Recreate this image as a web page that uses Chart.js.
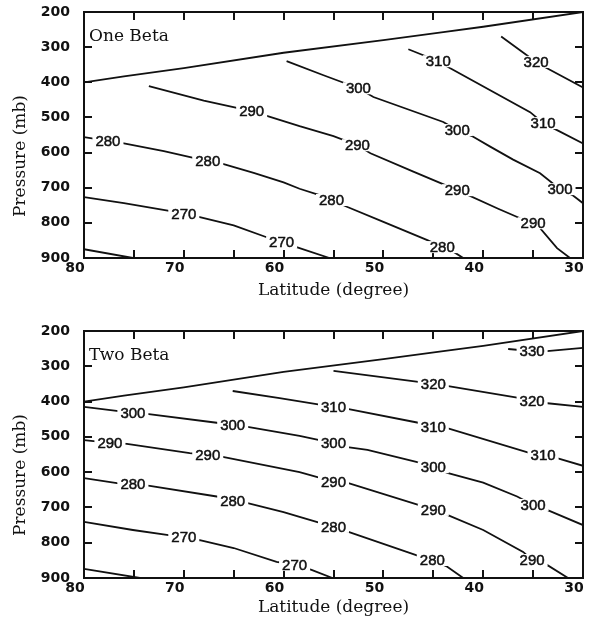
<!DOCTYPE html>
<html>
<head>
<meta charset="utf-8">
<script src="https://cdn.jsdelivr.net/npm/chart.js@4.4.0/dist/chart.umd.min.js"></script>
<style>
  body { margin: 0; background: #fff; }
  canvas { display: block; }
</style>
</head>
<body>
<canvas id="one-beta" width="591" height="310"></canvas>
<canvas id="two-beta" width="591" height="313"></canvas>
<script>
// ===== Axis values =====
const latTicks = [80, 75, 70, 65, 60, 55, 50, 45, 40, 35, 30];
const latLabels = [80, 70, 60, 50, 40, 30];
const pressureTicks = [200, 300, 400, 500, 600, 700, 800, 900];

// ===== Contours, points are [latitude, pressure mb] =====
// upper boundary, same for both runs
const tropopause = [[80, 400], [76, 383], [70, 360], [60, 316], [50, 280], [44, 257], [40, 242], [30, 200]];

// One Beta (theta, K)
const oneBeta260 = [[80, 875], [75.1, 900]];
const oneBeta270 = [[80, 727], [76, 744], [70, 773], [68.4, 784], [65, 807], [61.7, 841], [60.2, 855], [58.7, 869], [55.4, 900]];
const oneBeta280 = [[80, 556], [77.6, 567], [76, 574], [72, 596], [67.6, 624], [66, 633], [63, 658], [60, 685], [58.4, 703],
  [56.4, 721], [55.2, 735], [53.6, 755], [50, 797], [45.6, 849], [44.1, 869], [43, 882], [42, 900]];
const oneBeta290 = [[73.5, 411], [68, 452], [63.2, 482], [58.4, 525], [55, 553], [52.6, 579], [51.3, 602], [47, 654],
  [42.6, 707], [38.5, 760], [36.3, 787], [35, 801], [34.3, 815], [32.6, 872], [31.3, 900]];
const oneBeta300 = [[59.7, 340], [56, 380], [52.5, 417], [51, 442], [44, 513], [42.6, 536], [41, 555], [39.3, 583],
  [37, 620], [34.3, 659], [32.3, 704], [31, 722], [30, 744]];
const oneBeta310 = [[47.5, 306], [44.5, 340], [43.3, 360], [35.3, 485], [34, 516], [32.6, 536], [30, 574]];
const oneBeta320 = [[38.2, 270], [34.7, 342], [33.6, 360], [30, 415]];
const oneBetaLabels = [[270, 70, 773], [270, 60.2, 855], [280, 77.6, 567], [280, 67.6, 624], [280, 55.2, 735], [280, 44.1, 869],
  [290, 63.2, 482], [290, 52.6, 579], [290, 42.6, 707], [290, 35, 801], [300, 52.5, 417], [300, 42.6, 536], [300, 32.3, 704],
  [310, 44.5, 340], [310, 34, 516], [320, 34.7, 342]];

// Two Beta (theta, K)
const twoBeta260 = [[80, 874], [74.4, 900]];
const twoBeta270 = [[80, 741], [75.1, 764], [71.7, 778], [70, 784], [68.4, 793], [65, 815], [60.7, 854], [58.9, 863], [57.2, 877], [55.1, 900]];
const twoBeta280 = [[80, 617], [76.7, 631], [75.1, 633], [73.4, 639], [66.7, 669], [65.1, 681], [63.6, 688], [60, 713],
  [58.4, 727], [55, 755], [53.5, 769], [46.5, 837], [45.1, 849], [43.6, 868], [42, 900]];
const twoBeta290 = [[80, 509], [77.4, 517], [75.7, 520], [69.4, 546], [67.6, 551], [66.1, 557], [58.4, 600], [55, 627],
  [53.5, 631], [46.5, 693], [45, 707], [43.6, 721], [40, 764], [36, 826], [35.1, 849], [33.6, 863], [31.5, 900]];
const twoBeta300 = [[80, 415], [75.1, 432], [73.7, 435], [66.7, 460], [65.1, 466], [63.6, 472], [58.4, 497], [55, 518],
  [53.6, 529], [51.6, 537], [46.3, 574], [45, 586], [43.6, 602], [40, 630], [36.6, 669], [35, 693], [33.6, 707], [30, 750]];
const twoBeta310 = [[65.1, 370], [60.4, 390], [55, 415], [53.6, 421], [46.5, 460], [45, 471], [43.6, 475], [35.3, 546],
  [34, 551], [32.6, 560], [30, 582]];
const twoBeta320 = [[55, 313], [46.3, 345], [45, 350], [43.5, 356], [36.3, 390], [35.1, 398], [33.8, 404], [30, 415]];
const twoBeta330 = [[37.5, 251], [35.1, 257], [33.6, 257], [30, 248]];
const twoBetaLabels = [[270, 70, 784], [270, 58.9, 863], [280, 75.1, 633], [280, 65.1, 681], [280, 55, 755], [280, 45.1, 849],
  [290, 77.4, 517], [290, 67.6, 551], [290, 55, 627], [290, 45, 707], [290, 35.1, 849],
  [300, 75.1, 432], [300, 65.1, 466], [300, 55, 518], [300, 45, 586], [300, 35, 693],
  [310, 55, 415], [310, 45, 471], [310, 34, 551], [320, 45, 350], [320, 35.1, 398], [330, 35.1, 257]];

const INK = '#111';

// ===== Plugins =====
// cut a gap in the contour and write the level in it
const contourLabels = {
  id: 'contourLabels',
  afterDatasetsDraw(chart, args, opts) {
    const { ctx, scales: { x, y } } = chart;
    ctx.save();
    ctx.font = '15px "Liberation Sans", Arial, sans-serif';
    ctx.textAlign = 'center';
    ctx.textBaseline = 'middle';
    (opts.items || []).forEach(([level, lat, p]) => {
      const px = x.getPixelForValue(lat);
      const py = y.getPixelForValue(p);
      const txt = String(level);
      const w = ctx.measureText(txt).width;
      ctx.fillStyle = '#fff';
      ctx.fillRect(px - w / 2 - 3, py - 6, w + 6, 12);
      ctx.fillStyle = INK;
      ctx.lineWidth = 0.5;
      ctx.strokeStyle = INK;
      ctx.fillText(txt, px, py + 1);
      ctx.strokeText(txt, px, py + 1);
    });
    ctx.restore();
  }
};

// run name in the corner + rotated pressure title
const panelText = {
  id: 'panelText',
  afterDraw(chart, args, opts) {
    const { ctx, chartArea } = chart;
    ctx.save();
    ctx.fillStyle = INK;
    ctx.font = '17px "DejaVu Serif", serif';
    ctx.textBaseline = 'middle';
    ctx.textAlign = 'left';
    ctx.fillText(opts.name, chartArea.left + 5, chartArea.top + 25);
    ctx.translate(21, chartArea.top + 144);
    ctx.rotate(-Math.PI / 2);
    ctx.textAlign = 'center';
    ctx.fillText('Pressure (mb)', 0, 0);
    ctx.restore();
  }
};

// ===== Scales =====
// negative tick length puts the tick marks inside the frame
const gridStyle = { drawOnChartArea: false, drawTicks: true, tickLength: -8, tickColor: INK, tickWidth: 2, color: INK, lineWidth: 2 };
const borderStyle = { display: true, color: INK, width: 2 };
const tickFont = { family: '"DejaVu Sans", sans-serif', size: 14, weight: 'bold' };

function ticksFrom(values) {
    return scale => { scale.ticks = values.map(v => ({ value: v })); };
}

function makeScales(xHeight, titlePad) {
    const latAxis = { type: 'linear', min: 30, max: 80, reverse: true, afterBuildTicks: ticksFrom(latTicks), grid: gridStyle, border: borderStyle };
    const presAxis = { type: 'linear', min: 200, max: 900, reverse: true, afterBuildTicks: ticksFrom(pressureTicks), grid: gridStyle, border: borderStyle };
    return {
        x: {
            ...latAxis,
            position: 'bottom',
            afterFit: s => { s.height = xHeight; s.paddingLeft = 0; s.paddingRight = 0; },
            ticks: {
                autoSkip: false, maxRotation: 0, padding: 10, labelOffset: -9, color: INK, font: tickFont,
                callback: v => latLabels.includes(v) ? String(v) : ''
            },
            title: {
                display: true, text: 'Latitude (degree)', color: INK,
                font: { family: '"DejaVu Serif", serif', size: 17 },
                padding: { top: 0, bottom: titlePad }
            }
        },
        x2: {
            ...latAxis,
            position: 'top',
            afterFit: s => { s.height = 0; s.paddingLeft = 0; s.paddingRight = 0; },
            ticks: { display: false }
        },
        y: {
            ...presAxis,
            position: 'left',
            afterFit: s => { s.width = 84; s.paddingTop = 0; s.paddingBottom = 0; },
            ticks: { autoSkip: false, padding: 22, color: INK, font: tickFont, callback: v => String(v) }
        },
        y2: {
            ...presAxis,
            position: 'right',
            afterFit: s => { s.width = 0; s.paddingTop = 0; s.paddingBottom = 0; },
            ticks: { display: false }
        }
    };
}

function toDataset(points) {
    return {
        data: points.map(([lat, p]) => ({ x: lat, y: p })),
        borderColor: INK,
        borderWidth: 1.8,
        pointRadius: 0,
        tension: 0,
        fill: false
    };
}

function renderPanel(canvasId, name, lines, labels, padTop, xHeight, titlePad) {
    return new Chart(document.getElementById(canvasId), {
        type: 'line',
        data: { datasets: lines.map(toDataset) },
        options: {
            responsive: false,
            animation: false,
            events: [],
            layout: { padding: { left: 0, top: padTop, right: 8, bottom: 0 } },
            plugins: {
                legend: { display: false },
                tooltip: { enabled: false },
                contourLabels: { items: labels },
                panelText: { name: name }
            },
            scales: makeScales(xHeight, titlePad)
        },
        plugins: [contourLabels, panelText]
    });
}

renderPanel('one-beta', 'One Beta',
    [tropopause, oneBeta260, oneBeta270, oneBeta280, oneBeta290, oneBeta300, oneBeta310, oneBeta320],
    oneBetaLabels, 12, 52, 9);

renderPanel('two-beta', 'Two Beta',
    [tropopause, twoBeta260, twoBeta270, twoBeta280, twoBeta290, twoBeta300, twoBeta310, twoBeta320, twoBeta330],
    twoBetaLabels, 21, 45, 5);
</script>
</body>
</html>
